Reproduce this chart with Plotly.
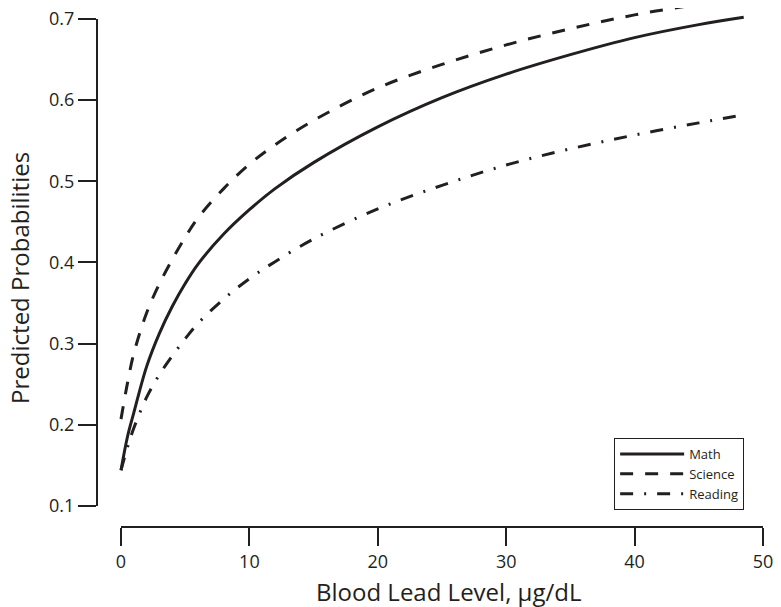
import plotly.graph_objects as go

# Data
blood_lead = [0, 0.5, 1, 2, 3, 4, 5, 6, 8, 10, 12, 15, 20, 25, 30, 35, 40, 45, 48.5]
math_prob = [0.144, 0.185, 0.215, 0.272, 0.313, 0.346, 0.374, 0.398, 0.435, 0.465, 0.491,
             0.523, 0.567, 0.603, 0.632, 0.656, 0.677, 0.693, 0.702]
science_prob = [0.207, 0.251, 0.288, 0.338, 0.374, 0.404, 0.431, 0.455, 0.491, 0.521, 0.545,
                0.575, 0.615, 0.644, 0.668, 0.688, 0.705, 0.718, 0.725]
reading_prob = [0.144, 0.172, 0.196, 0.234, 0.262, 0.285, 0.306, 0.325, 0.355, 0.380, 0.401,
                0.429, 0.466, 0.495, 0.520, 0.540, 0.557, 0.572, 0.582]

x_ticks = [0, 10, 20, 30, 40, 50]
y_ticks = [0.1, 0.2, 0.3, 0.4, 0.5, 0.6, 0.7]

INK = "#231f20"
FONT = "Open Sans"

fig = go.Figure()
fig.add_trace(go.Scatter(x=blood_lead, y=math_prob, name="Math", mode="lines",
                         line=dict(color=INK, width=3, shape="spline")))
fig.add_trace(go.Scatter(x=blood_lead, y=science_prob, name="Science", mode="lines",
                         line=dict(color=INK, width=3, shape="spline", dash="13px,12px")))
fig.add_trace(go.Scatter(x=blood_lead, y=reading_prob, name="Reading", mode="lines",
                         line=dict(color=INK, width=3, shape="spline", dash="13px,11px,2px,11px")))

# axis spines (detached)
fig.add_shape(type="line", xref="x", yref="paper", x0=0, x1=50, y0=0, y1=0,
              line=dict(color=INK, width=2))
fig.add_shape(type="line", xref="paper", yref="y", x0=0, x1=0, y0=0.1, y1=0.7,
              line=dict(color=INK, width=2))

fig.add_annotation(text="Blood Lead Level, µg/dL", xref="x", yref="paper", x=25.5, y=0,
                   yanchor="middle", xanchor="center", yshift=-64, showarrow=False,
                   font=dict(family=FONT, size=24, color=INK))
fig.add_annotation(text="Predicted Probabilities", xref="paper", yref="y", x=0, y=0.381,
                   xanchor="center", yanchor="middle", xshift=-77, textangle=-90,
                   showarrow=False, font=dict(family=FONT, size=24, color=INK))

fig.update_layout(
    width=765, height=599,
    margin=dict(l=89, r=0, t=0, b=80, autoexpand=False),
    paper_bgcolor="white", plot_bgcolor="white",
    font=dict(family=FONT, color=INK),
    showlegend=True,
    legend=dict(x=0.765, y=0.1715, xanchor="left", yanchor="top",
                bordercolor=INK, borderwidth=1, bgcolor="white",
                font=dict(family=FONT, size=13, color=INK),
                itemwidth=64, tracegroupgap=0),
    xaxis=dict(range=[-1.869, 50.78], tickvals=x_ticks, ticktext=[str(v) for v in x_ticks],
               ticks="outside", ticklen=18, tickwidth=2, tickcolor=INK, automargin=False,
               ticklabeloverflow="allow",
               showgrid=False, zeroline=False, showline=False,
               tickfont=dict(family=FONT, size=18, color=INK)),
    yaxis=dict(range=[0.0741, 0.7135], tickvals=y_ticks, ticktext=[f"{v:.1f}" for v in y_ticks],
               ticks="outside", ticklen=18, tickwidth=2, tickcolor=INK, automargin=False,
               ticklabeloverflow="allow",
               showgrid=False, zeroline=False, showline=False,
               tickfont=dict(family=FONT, size=18, color=INK)),
)

fig.write_html("out.html")
